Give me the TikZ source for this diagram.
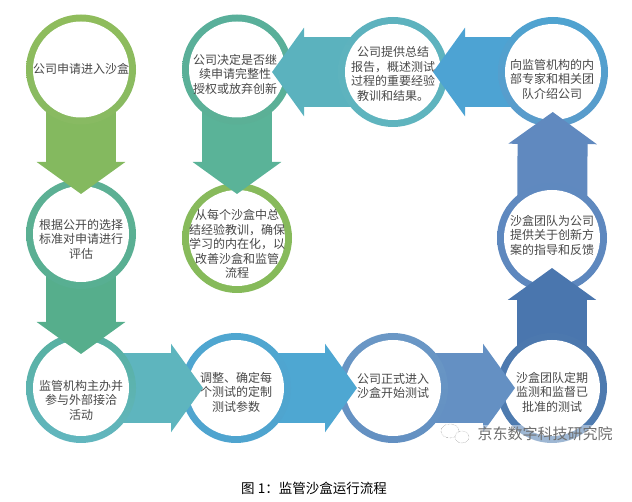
\documentclass[tikz,border=0pt]{standalone}
\usepackage{fontspec}
\setmainfont{Noto Sans CJK SC}
\usetikzlibrary{arrows.meta}

\definecolor{txtgray}{HTML}{484848}
\definecolor{markgray}{HTML}{6E6E6E}

\foreach \n in {c1,a1,c2,a2,c3,a3,c4,a4,c5,a5,c6,a6,c7,a7,c8,a8,c9,a9,c10,a10,c11}{\pgfdeclarelayer{\n}}
\pgfsetlayers{c11,a10,c10,a9,c9,a8,c8,a7,c7,a6,c6,a5,c5,a4,c4,a3,c3,a2,c2,a1,c1,main}

\tikzset{
	ring/.style={circle,minimum size=110pt,inner sep=0pt,outer sep=0pt,
		path picture={\fill[white] (path picture bounding box.center) circle (48pt);}},
	steptext/.style={align=center,text=txtgray,inner sep=0pt,font=\fontsize{12}{14.5}\selectfont},
	bigarrow/.style={line width=70pt,shorten <=-15pt,-{Triangle[length=32pt,width=87pt]}}
}

% circle, its text: name, centre, ring colours, text position, text
\newcommand{\stepcircle}[6]{
	\begin{pgfonlayer}{c#1}
		\definecolor{ringtop}{HTML}{#3}
		\definecolor{ringbottom}{HTML}{#4}
		\node(c#1) at (#2)[ring,top color=ringtop,bottom color=ringbottom]{};
		\node(t#1) at (#5)[steptext]{#6};
	\end{pgfonlayer}
}
% block arrow from circle to circle
\newcommand{\steparrow}[4]{
	\begin{pgfonlayer}{a#1}
		\definecolor{arrowfill}{HTML}{#3}
		\draw[bigarrow,draw=arrowfill,shorten >=#4pt] (c#1) to (#2);
	\end{pgfonlayer}
}

\begin{document}
\begin{tikzpicture}[x=1pt,y=-1pt]
	\useasboundingbox (0,0) rectangle (632,502);
	
	\stepcircle{1}{81,69.5}{8FBC5C}{88BA62}{81,69}{公司申请进入沙盒}
	\stepcircle{2}{81,234}{5DB094}{58AF92}{81,239}{根据公开的选择\\标准对申请进行\\评估}
	\stepcircle{3}{81,388}{57B0A0}{62B6BF}{81,400}{监管机构主办并\\参与外部接洽\\活动}
	\stepcircle{4}{236,388}{4FA6D0}{4FA4CF}{236,392}{调整、确定每\\个测试的定制\\测试参数}
	\stepcircle{5}{393,388}{6A97C5}{6390C2}{393,386}{公司正式进入\\沙盒开始测试}
	\stepcircle{6}{552,388}{4C78AE}{4F7CB0}{552,392}{沙盒团队定期\\监测和监督已\\批准的测试}
	\stepcircle{7}{552,238}{5F89BF}{5D87BE}{552,235}{沙盒团队为公司\\提供关于创新方\\案的指导和反馈}
	\stepcircle{8}{553,72}{4FA3D0}{5A9BCB}{552,79}{向监管机构的内\\部专家和相关团\\队介绍公司}
	\stepcircle{9}{393,72}{5DB2BE}{5FB4BE}{393,74}{公司提供总结\\报告，概述测试\\过程的重要经验\\教训和结果。}
	\stepcircle{10}{237,69.5}{59AF9A}{5BB096}{235,74}{公司决定是否继\\续申请完整性\\授权或放弃创新}
	\stepcircle{11}{237,238}{88BA5C}{86BA5A}{237,244}{从每个沙盒中总\\结经验教训，确保\\学习的内在化，以\\改善沙盒和监管\\流程}
	
	\steparrow{1}{c2}{84B95F}{-15}
	\steparrow{2}{c3}{56AE8C}{-21}
	\steparrow{3}{c4}{5EB5BE}{-22}
	\steparrow{4}{c5}{4EA7D2}{-19}
	\steparrow{5}{c6}{6490C3}{-18}
	\steparrow{6}{c7}{4A76AE}{-25}
	\steparrow{7}{c8}{6089BF}{-15}
	\steparrow{8}{c9}{4DA3D3}{-15}
	\steparrow{9}{c9-|c10}{5BB2BE}{35}
	\steparrow{10}{c11}{5AB398}{-11}
	
	% watermark
	\draw[markgray,fill=white,densely dotted] (450,431) ellipse (9pt and 7pt);
	\draw[markgray,fill=white,densely dotted] (462,437) ellipse (7pt and 6pt);
	\node(mark) at (545,434)[fill=white,fill opacity=.45,text opacity=1,text=markgray,inner sep=2pt,font=\fontsize{15}{15}\selectfont]{京东数字科技研究院};
	
	\node(caption) at (314,488)[inner sep=0pt,font=\fontsize{13.5}{15}\selectfont]{图 1：监管沙盒运行流程};
\end{tikzpicture}
\end{document}
